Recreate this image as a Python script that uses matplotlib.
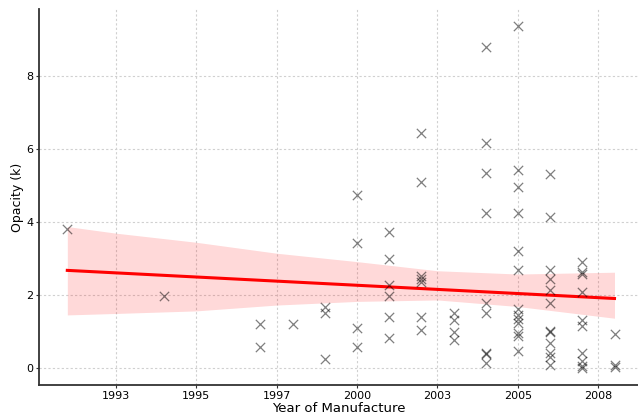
import numpy as np
import matplotlib.pyplot as plt

# opacity readings grouped by year of manufacture
years = (
    [1991] + [1994] + [1997] * 2 + [1998] + [1999] * 3 + [2000] * 4
    + [2001] * 6 + [2002] * 7 + [2003] * 4 + [2004] * 9 + [2005] * 13
    + [2006] * 12 + [2007] * 10 + [2008] * 3
)
opacity = [
    3.82,
    1.97,
    1.21, 0.59,
    1.21,
    1.69, 1.51, 0.25,
    4.75, 3.42, 1.10, 0.59,
    3.74, 2.99, 2.28, 1.98, 1.39, 0.82,
    6.44, 5.11, 2.53, 2.45, 2.35, 1.40, 1.05,
    1.51, 1.32, 0.98, 0.78,
    8.79, 6.18, 5.34, 4.26, 1.78, 1.52, 0.42, 0.38, 0.15,
    9.38, 5.43, 4.96, 4.25, 3.20, 2.70, 1.62, 1.45, 1.35, 1.25, 0.96, 0.88, 0.46,
    5.32, 4.14, 2.70, 2.44, 2.13, 1.78, 1.03, 0.98, 0.69, 0.42, 0.32, 0.08,
    2.91, 2.64, 2.58, 2.08, 1.32, 1.17, 0.42, 0.20, 0.06, 0.01,
    0.93, 0.09, 0.03,
]

# regression line and its confidence band
fit_years = [1991, 2008]
fit_values = [2.68, 1.91]
band_years = [1991, 1992.5, 1995, 1997.5, 2000, 2002.5, 2005, 2008]
band_upper = [3.88, 3.70, 3.45, 3.15, 2.92, 2.67, 2.58, 2.63]
band_lower = [1.46, 1.50, 1.57, 1.73, 1.83, 1.87, 1.69, 1.37]

tick_pos = [1992.5, 1995, 1997.5, 2000, 2002.5, 2005, 2007.5]
tick_labels = ["1993", "1995", "1997", "2000", "2003", "2005", "2008"]

fig = plt.figure(figsize=(6.38, 4.19), dpi=100)
ax = fig.add_axes([0.0616, 0.081, 0.9384, 0.897])

ax.fill_between(band_years, band_lower, band_upper, color="red", alpha=0.15, lw=0)
ax.plot(fit_years, fit_values, color="red", lw=2.2)
ax.scatter(years, opacity, marker="x", color="black", alpha=0.5, s=45,
           linewidths=0.9, zorder=3)

ax.set_xlim(1990.13, 2008.73)
ax.set_ylim(-0.46, 9.83)
ax.set_xticks(tick_pos)
ax.set_xticklabels(tick_labels)
ax.set_yticks([0, 2, 4, 6, 8])
ax.tick_params(labelsize=8, length=2.5, pad=1.5, color="#333333")
ax.grid(True, color="#d0d0d0", linestyle=(0, (2, 2)), lw=0.8)
ax.set_axisbelow(True)

for side in ["top", "right"]:
    ax.spines[side].set_visible(False)
for side in ["left", "bottom"]:
    ax.spines[side].set_color("#333333")
    ax.spines[side].set_linewidth(1.3)

ax.set_xlabel("Year of Manufacture", fontsize=9.5, labelpad=1)
ax.set_ylabel("Opacity (k)", fontsize=9, labelpad=2)

fig.savefig("out.png", dpi=100)
